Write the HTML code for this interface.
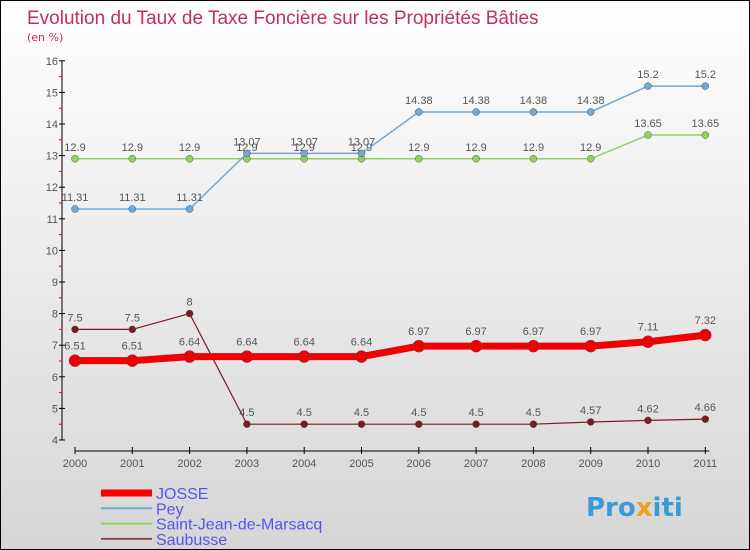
<!DOCTYPE html>
<html><head><meta charset="utf-8"><style>
body{margin:0}
#c{width:748px;height:548px;border:1px solid #000;background:linear-gradient(#fff,#d6d6d6);position:relative;font-family:"DejaVu Sans","Liberation Sans",sans-serif;overflow:hidden}
</style></head><body>
<div id="c">
<svg id="s" width="748" height="548">
<text x="26" y="23" font-size="19" fill="#c0305e" font-family="Liberation Sans, sans-serif">Evolution du Taux de Taxe Foncière sur les Propriétés Bâties</text>
<text x="26" y="40" font-size="11" fill="#c0305e">(en %)</text>
<text x="585" y="515" font-size="26" font-weight="bold" fill="#3a9ad9">Pro<tspan fill="#f0a020">x</tspan>iti</text>
</svg></div>
<script>
const years=["2000","2001","2002","2003","2004","2005","2006","2007","2008","2009","2010","2011"];
const yTicks=[4,5,6,7,8,9,10,11,12,13,14,15,16];
const josse=[6.51,6.51,6.64,6.64,6.64,6.64,6.97,6.97,6.97,6.97,7.11,7.32];
const josseL=["6.51","6.51","6.64","6.64","6.64","6.64","6.97","6.97","6.97","6.97","7.11","7.32"];
const pey=[11.31,11.31,11.31,13.07,13.07,13.07,14.38,14.38,14.38,14.38,15.2,15.2];
const peyL=["11.31","11.31","11.31","13.07","13.07","13.07","14.38","14.38","14.38","14.38","15.2","15.2"];
const sjm=[12.9,12.9,12.9,12.9,12.9,12.9,12.9,12.9,12.9,12.9,13.65,13.65];
const sjmL=["12.9","12.9","12.9","12.9","12.9","12.9","12.9","12.9","12.9","12.9","13.65","13.65"];
const sau=[7.5,7.5,8,4.5,4.5,4.5,4.5,4.5,4.5,4.57,4.62,4.66];
const sauL=["7.5","7.5","8","4.5","4.5","4.5","4.5","4.5","4.5","4.57","4.62","4.66"];
const s=document.getElementById('s');const NS="http://www.w3.org/2000/svg";
function X(i){return 74+i*57.3}
function Y(v){return 439-(v-4)*31.6}
function el(t,a,n){const e=document.createElementNS(NS,t);for(const k in a)e.setAttribute(k,a[k]);


s.appendChild(e);return e}
el('line',{x1:61,y1:Y(16),x2:61,y2:Y(4),stroke:'#000'},'y-axis');
yTicks.forEach(v=>{el('line',{x1:58,y1:Y(v),x2:64,y2:Y(v),stroke:'#000'},'y-tick');
if(v<16)el('line',{x1:58,y1:Y(v+0.5),x2:61,y2:Y(v+0.5),stroke:'#e00'},'y-minor-tick');
const t=el('text',{x:57,y:Y(v)+4,'font-size':11,fill:'#555','text-anchor':'end','font-family':'Liberation Sans, sans-serif'},'y-tick-label');t.textContent=v;});
el('line',{x1:X(0),y1:450,x2:X(11)+4,y2:450,stroke:'#000'},'x-axis');
years.forEach((y,i)=>{el('line',{x1:X(i),y1:446,x2:X(i),y2:453,stroke:'#000'},'x-tick');
const t=el('text',{x:X(i),y:466,'font-size':11,fill:'#555','text-anchor':'middle','font-family':'Liberation Sans, sans-serif'},'x-tick-label');t.textContent=y;});
function series(d,L,col,w,r,name,dy){
el('polyline',{points:d.map((v,i)=>X(i)+','+Y(v)).join(' '),fill:'none',stroke:col,'stroke-width':w},name+'-line');
d.forEach((v,i)=>{el('circle',{cx:X(i),cy:Y(v),r:r,fill:col,stroke:'#555','stroke-width':0.5},name+'-point');
const t=el('text',{x:X(i),y:Y(v)-dy,'font-size':11,fill:'#555','text-anchor':'middle','font-family':'Liberation Sans, sans-serif'},name+'-value-label');t.textContent=L[i];});}
series(sjm,sjmL,'#8fd45a',1.5,3.5,'saint-jean-de-marsacq',8);
series(pey,peyL,'#72a8d4',1.5,3.5,'pey',8);
series(sau,sauL,'#7a1a22',1.2,3.5,'saubusse',8);
series(josse,josseL,'#f00000',7,6,'josse',11);
const leg=[['JOSSE','#f00',7],['Pey','#72a8d4',2],['Saint-Jean-de-Marsacq','#8fd45a',2],['Saubusse','#8a4a4a',2]];
leg.forEach((l,i)=>{const y=492+i*15.3;
el('line',{x1:100,y1:y,x2:151,y2:y,stroke:l[1],'stroke-width':l[2]},'legend-swatch');
const t=el('text',{x:155,y:y+6,'font-size':16,fill:'#5555ee','font-family':'Liberation Sans, sans-serif'},'legend-entry');t.textContent=l[0];});
</script>
</body></html>
